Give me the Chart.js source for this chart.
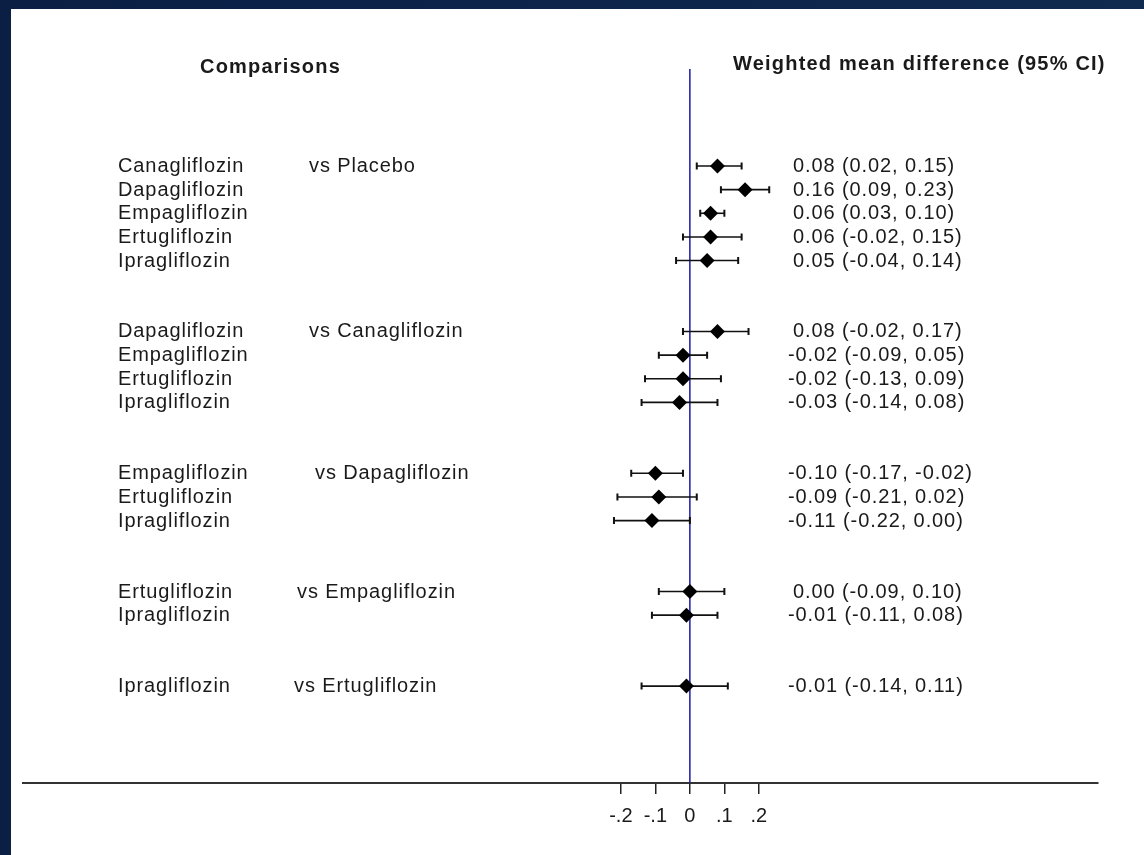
<!DOCTYPE html>
<html>
<head>
<meta charset="utf-8">
<script src="https://cdn.jsdelivr.net/npm/chart.js@4.4.1/dist/chart.umd.min.js"></script>
<style>
  html, body { margin: 0; padding: 0; }
  body { width: 1144px; height: 855px; background: linear-gradient(90deg, #0b1f44, #10294f); overflow: hidden; position: relative; }
  .panel { position: absolute; left: 11px; top: 9px; width: 1133px; height: 846px; background: #fff; }
</style>
</head>
<body>
<div class="panel"><canvas id="forest" width="1133" height="846"></canvas></div>
<script>
// Karşılaştırmalar
const comparators = ['Placebo', 'Canagliflozin', 'Dapagliflozin', 'Empagliflozin', 'Ertugliflozin'];
const drugs = [
  'Canagliflozin', 'Dapagliflozin', 'Empagliflozin', 'Ertugliflozin', 'Ipragliflozin',
  'Dapagliflozin', 'Empagliflozin', 'Ertugliflozin', 'Ipragliflozin',
  'Empagliflozin', 'Ertugliflozin', 'Ipragliflozin',
  'Ertugliflozin', 'Ipragliflozin',
  'Ipragliflozin'
];
const groupOf = [0, 0, 0, 0, 0, 1, 1, 1, 1, 2, 2, 2, 3, 3, 4];

// Ağırlıklı ortalama fark ve %95 GA
const wmd   = [0.08, 0.16, 0.06, 0.06, 0.05, 0.08, -0.02, -0.02, -0.03, -0.10, -0.09, -0.11, 0.00, -0.01, -0.01];
const lower = [0.02, 0.09, 0.03, -0.02, -0.04, -0.02, -0.09, -0.13, -0.14, -0.17, -0.21, -0.22, -0.09, -0.11, -0.14];
const upper = [0.15, 0.23, 0.10, 0.15, 0.14, 0.17, 0.05, 0.09, 0.08, -0.02, 0.02, 0.00, 0.10, 0.08, 0.11];

const tickValues = [-0.2, -0.1, 0, 0.1, 0.2];
const tickLabels = ['-.2', '-.1', '0', '.1', '.2'];

// satır konumu: her grup arasında iki boş satır
const rows = drugs.map((d, i) => i + 2 * groupOf[i]);
const fmt = v => v.toFixed(2);

const vsX = [298, 298, 304, 286, 283];
const font = '20px "Liberation Sans", Arial, sans-serif';
const boldFont = 'bold 20px "Liberation Sans", Arial, sans-serif';

const forestPlugin = {
  id: 'forest',
  beforeDatasetsDraw(chart) {
    const { ctx, scales: { x, y } } = chart;
    ctx.save();
    // sıfır çizgisi
    ctx.strokeStyle = '#1a1aa8';
    ctx.lineWidth = 1.5;
    ctx.beginPath();
    ctx.moveTo(x.getPixelForValue(0), y.getPixelForValue(-4.1));
    ctx.lineTo(x.getPixelForValue(0), chart.chartArea.bottom);
    ctx.stroke();

    // güven aralıkları
    ctx.strokeStyle = '#111';
    rows.forEach((r, i) => {
      const py = y.getPixelForValue(r);
      const x1 = x.getPixelForValue(lower[i]);
      const x2 = x.getPixelForValue(upper[i]);
      ctx.lineWidth = 1.6;
      ctx.beginPath();
      ctx.moveTo(x1, py); ctx.lineTo(x2, py);
      ctx.stroke();
      ctx.lineWidth = 2;
      ctx.beginPath();
      ctx.moveTo(x1, py - 3.5); ctx.lineTo(x1, py + 3.5);
      ctx.moveTo(x2, py - 3.5); ctx.lineTo(x2, py + 3.5);
      ctx.stroke();
    });
    ctx.restore();
  },
  afterDraw(chart) {
    const { ctx, scales: { y } } = chart;
    ctx.save();
    ctx.fillStyle = '#1a1a1a';
    ctx.textAlign = 'left';
    ctx.textBaseline = 'alphabetic';
    ctx.letterSpacing = '1.2px';
    ctx.font = boldFont;
    ctx.fillText('Comparisons', 189, 64);
    ctx.fillText('Weighted mean difference (95% CI)', 722, 61);

    ctx.font = font;
    ctx.letterSpacing = '0.9px';
    rows.forEach((r, i) => {
      const py = y.getPixelForValue(r) + 6;
      ctx.fillText(drugs[i], 107, py);
      if (i === 0 || groupOf[i] !== groupOf[i - 1]) {
        const g = groupOf[i];
        ctx.fillText('vs ' + comparators[g], vsX[g], py);
      }
      ctx.fillText(`${fmt(wmd[i])} (${fmt(lower[i])}, ${fmt(upper[i])})`, wmd[i] < 0 ? 777 : 782, py);
    });
    ctx.restore();
  }
};

new Chart(document.getElementById('forest'), {
  type: 'scatter',
  data: {
    datasets: [{
      data: rows.map((r, i) => ({ x: wmd[i], y: r })),
      pointStyle: 'rectRot',
      pointRadius: 7.5,
      pointHoverRadius: 7.5,
      backgroundColor: '#000',
      borderWidth: 0
    }]
  },
  options: {
    responsive: false,
    animation: false,
    layout: { autoPadding: false, padding: { left: 12, right: 46, top: 0, bottom: 0 } },
    plugins: { legend: { display: false }, tooltip: { enabled: false } },
    scales: {
      x: {
        type: 'linear',
        min: -1.933,
        max: 1.183,
        afterBuildTicks: s => { s.ticks = tickValues.map(v => ({ value: v })); },
        afterFit: s => { s.height = 72; },
        ticks: {
          callback: (v) => tickLabels[tickValues.findIndex(t => Math.abs(t - v) < 1e-9)],
          color: '#1a1a1a',
          font: { family: '"Liberation Sans", Arial, sans-serif', size: 20 },
          padding: 10,
          maxRotation: 0,
          autoSkip: false
        },
        grid: { drawOnChartArea: false, drawTicks: true, tickLength: 11, color: '#222', lineWidth: 1.5 },
        border: { display: true, color: '#333', width: 2 }
      },
      y: {
        type: 'linear',
        reverse: true,
        min: -6.642,
        max: 26.10,
        display: false
      }
    }
  },
  plugins: [forestPlugin]
});
</script>
</body>
</html>
